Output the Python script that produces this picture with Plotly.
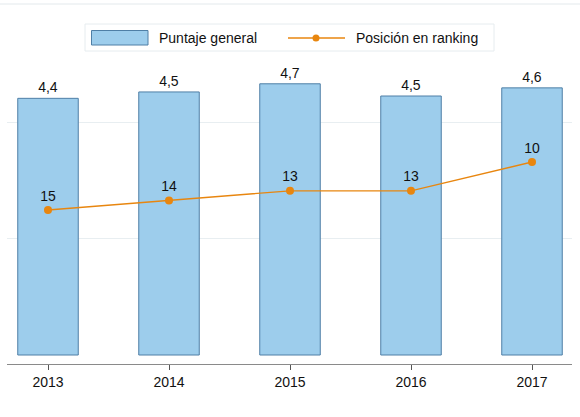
import plotly.graph_objects as go

years = ["2013", "2014", "2015", "2016", "2017"]
puntaje = [4.41, 4.52, 4.66, 4.45, 4.59]
puntaje_labels = ["4,4", "4,5", "4,7", "4,5", "4,6"]
ranking = [15, 14, 13, 13, 10]

BAR_FILL = "#9DCDEC"
BAR_LINE = "#4F7FA6"
ORANGE = "#E8860F"
FONT = "Arial, Liberation Sans, sans-serif"

W, H = 580, 417
L, R, T, B = 7, 8, 60, 53
# plot area pixel bounds
PX0, PX1 = L, W - R
PY0, PY1 = T, H - B


def px(x):
    return (x - PX0) / (PX1 - PX0)


def py(y):
    return (PY1 - y) / (PY1 - PY0)


fig = go.Figure()

fig.add_trace(go.Bar(
    x=years, y=puntaje, name="Puntaje general",
    marker=dict(color=BAR_FILL, line=dict(color=BAR_LINE, width=1)),
    width=0.5,
    text=puntaje_labels, textposition="outside",
    textfont=dict(size=14, color="#111111", family=FONT),
    cliponaxis=False, showlegend=False,
))

fig.add_trace(go.Scatter(
    x=years, y=ranking, name="Posición en ranking", yaxis="y2",
    mode="lines+markers+text",
    line=dict(color=ORANGE, width=1.3),
    marker=dict(color=ORANGE, size=8),
    text=[str(r) for r in ranking], textposition="top center",
    textfont=dict(size=14, color="#111111", family=FONT),
    cliponaxis=False, showlegend=False,
))

shapes = [
    # faint top rule
    dict(type="line", xref="paper", yref="paper", x0=px(0), x1=px(W), y0=py(4), y1=py(4),
         line=dict(color="#E3E9EC", width=1)),
    # legend box
    dict(type="rect", xref="paper", yref="paper", x0=px(85), x1=px(494), y0=py(51), y1=py(24),
         line=dict(color="#E6ECEF", width=1), fillcolor="white"),
    # bar swatch
    dict(type="rect", xref="paper", yref="paper", x0=px(91.5), x1=px(148), y0=py(45), y1=py(30.5),
         line=dict(color=BAR_LINE, width=1), fillcolor=BAR_FILL),
    # line swatch
    dict(type="line", xref="paper", yref="paper", x0=px(288), x1=px(345), y0=py(38), y1=py(38),
         line=dict(color=ORANGE, width=1.3)),
    dict(type="circle", xref="paper", yref="paper", x0=px(312.5), x1=px(319.5), y0=py(41.5), y1=py(34.5),
         line=dict(color=ORANGE, width=0), fillcolor=ORANGE),
]

annotations = [
    dict(text="Puntaje general", xref="paper", yref="paper", x=px(157), y=py(38),
         xanchor="left", yanchor="middle", showarrow=False,
         font=dict(size=14, color="#111111", family=FONT)),
    dict(text="Posición en ranking", xref="paper", yref="paper", x=px(354), y=py(38),
         xanchor="left", yanchor="middle", showarrow=False,
         font=dict(size=14, color="#111111", family=FONT)),
]

ppu = 58.2  # pixels per score unit
y_bottom_px = 355
ymin = -(PY1 - y_bottom_px) / ppu
ymax = (y_bottom_px - PY0) / ppu

rank_px = 9.6
r10_px = 162
r_bottom = 10 + (PY1 - r10_px) / rank_px
r_top = 10 + (PY0 - r10_px) / rank_px

fig.update_layout(
    width=W, height=H,
    margin=dict(l=L, r=R, t=T, b=B),
    paper_bgcolor="white", plot_bgcolor="white",
    separators=",.",
    font=dict(family=FONT, size=14, color="#111111"),
    shapes=shapes, annotations=annotations,
    showlegend=False,
    hovermode=False,
    xaxis=dict(
        type="category", range=[(PX0 - 48) / 121, 4 + (PX1 - 532) / 121],
        showline=True, linecolor="#8A8A8A", linewidth=1,
        ticks="outside", ticklen=5, tickcolor="#555555",
        showgrid=False, zeroline=False,
        tickfont=dict(size=14, color="#111111", family=FONT),
    ),
    yaxis=dict(
        range=[ymin, ymax], tickvals=[2, 4], showticklabels=False,
        showgrid=True, gridcolor="#E8EEF1", gridwidth=1,
        zeroline=False, showline=False, ticks="",
    ),
    yaxis2=dict(
        overlaying="y", range=[r_bottom, r_top], showgrid=False,
        showticklabels=False, zeroline=False, showline=False, ticks="",
    ),
)

fig.write_html(
    "out.html",
    config={"displayModeBar": False, "staticPlot": True},
    post_script="document.body.style.margin='0';document.body.style.overflow='hidden';",
)
